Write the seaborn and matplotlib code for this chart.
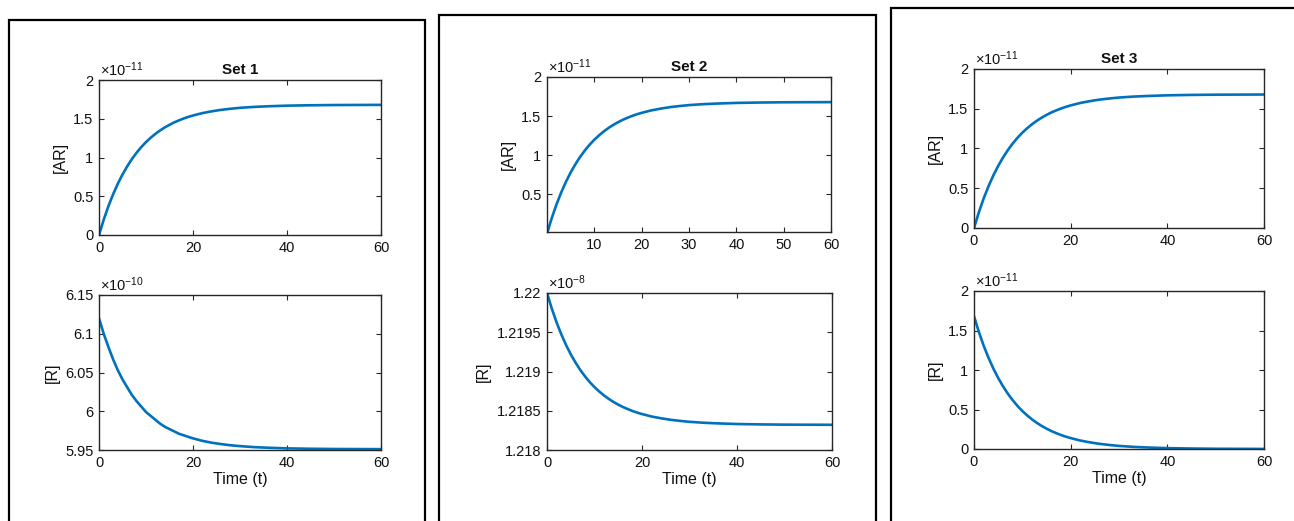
import matplotlib
matplotlib.use("Agg")
import matplotlib.pyplot as plt
import seaborn as sns
from matplotlib.patches import Rectangle
from matplotlib.ticker import FuncFormatter

# Time points (t)
time_t = [0, 1, 2, 3, 4, 5, 6, 7, 8, 9, 10, 11, 12, 13, 14, 15, 16, 17, 18, 19, 20,
          22, 24, 26, 28, 30, 33, 36, 40, 45, 50, 55, 60]

# [AR] in units of 1e-11 (same shape in all three sets)
ar_set1 = [0.000, 0.197, 0.372, 0.525, 0.661, 0.781, 0.886, 0.980, 1.062, 1.135, 1.199,
           1.255, 1.305, 1.349, 1.388, 1.422, 1.453, 1.479, 1.503, 1.524, 1.542,
           1.573, 1.596, 1.615, 1.629, 1.641, 1.653, 1.661, 1.669, 1.674, 1.677, 1.678, 1.679]
ar_set2 = [0.000, 0.197, 0.372, 0.525, 0.661, 0.781, 0.886, 0.980, 1.062, 1.135, 1.199,
           1.255, 1.305, 1.349, 1.388, 1.422, 1.453, 1.479, 1.503, 1.524, 1.542,
           1.573, 1.596, 1.615, 1.629, 1.641, 1.653, 1.661, 1.669, 1.674, 1.677, 1.678, 1.679]
ar_set3 = [0.000, 0.197, 0.372, 0.525, 0.661, 0.781, 0.886, 0.980, 1.062, 1.135, 1.199,
           1.255, 1.305, 1.349, 1.388, 1.422, 1.453, 1.479, 1.503, 1.524, 1.542,
           1.573, 1.596, 1.615, 1.629, 1.641, 1.653, 1.661, 1.669, 1.674, 1.677, 1.678, 1.679]

# [R] set 1 in units of 1e-10
r_set1 = [6.120, 6.100, 6.083, 6.067, 6.053, 6.041, 6.031, 6.021, 6.013, 6.006, 5.999,
          5.994, 5.989, 5.984, 5.980, 5.977, 5.974, 5.971, 5.969, 5.967, 5.965,
          5.9618, 5.9594, 5.9576, 5.9561, 5.9550, 5.9537, 5.9529, 5.9521, 5.9516, 5.9513,
          5.9512, 5.9511]
# [R] set 2 in units of 1e-8
r_set2 = [1.220000, 1.219803, 1.219628, 1.219475, 1.219339, 1.219219, 1.219114, 1.219020,
          1.218938, 1.218865, 1.218801, 1.218745, 1.218695, 1.218651, 1.218612, 1.218578,
          1.218547, 1.218521, 1.218497, 1.218476, 1.218458, 1.218427, 1.218404, 1.218385,
          1.218371, 1.218359, 1.218347, 1.218339, 1.218331, 1.218326, 1.218323, 1.218322,
          1.218321]
# [R] set 3 in units of 1e-11
r_set3 = [1.680, 1.483, 1.308, 1.155, 1.019, 0.899, 0.794, 0.700, 0.618, 0.545, 0.481,
          0.425, 0.375, 0.331, 0.292, 0.258, 0.227, 0.201, 0.177, 0.156, 0.138,
          0.107, 0.084, 0.065, 0.051, 0.039, 0.027, 0.019, 0.011, 0.006, 0.003, 0.002, 0.001]

set_titles = ["Set 1", "Set 2", "Set 3"]

sns.set_theme(style="white")
plt.rcParams['font.family'] = ['Liberation Sans', 'DejaVu Sans']
plt.rcParams['mathtext.fontset'] = 'custom'
plt.rcParams['mathtext.rm'] = 'Liberation Sans'
plt.rcParams['mathtext.it'] = 'Liberation Sans:italic'
plt.rcParams['text.color'] = '#111111'
plt.rcParams['axes.labelcolor'] = '#111111'

W, H = 1294, 521
fig = plt.figure(figsize=(W / 100, H / 100), dpi=100)
line_color = '#0072BD'
axis_color = '#262626'


def px_axes(left, top, right, bottom):
    return fig.add_axes([left / W, 1 - bottom / H, (right - left) / W, (bottom - top) / H])


def draw(ax, y, xlim, xticks, ylim, yticks, exp_txt, ylabel):
    sns.lineplot(x=time_t, y=y, ax=ax, color=line_color, linewidth=1.9)
    ax.set_xlim(*xlim)
    ax.set_ylim(*ylim)
    ax.set_xticks(xticks)
    ax.set_yticks(yticks)
    fmt = FuncFormatter(lambda v, p: f'{v:g}')
    ax.xaxis.set_major_formatter(fmt)
    ax.yaxis.set_major_formatter(fmt)
    ax.tick_params(direction='in', left=True, bottom=True, top=True, right=True,
                   length=3.5, width=0.8, color=axis_color, labelsize=10.5,
                   labelcolor='#111111', pad=4)
    for s in ax.spines.values():
        s.set_color(axis_color)
        s.set_linewidth(1.0)
    ax.set_ylabel(ylabel, fontsize=11.5, labelpad=4)
    ax.text(0.005, 1.005, '×10$^{' + exp_txt + '}$', transform=ax.transAxes,
            ha='left', va='bottom', fontsize=10.5, color='#111111')


# Set 1
ax = px_axes(99, 80, 381, 235)
draw(ax, ar_set1, (0, 60), [0, 20, 40, 60], (0, 2), [0, 0.5, 1, 1.5, 2], '-11', '[AR]')
ax.set_title(set_titles[0], fontsize=11, fontweight='bold', pad=4)
ax = px_axes(99, 295, 381, 450)
draw(ax, r_set1, (0, 60), [0, 20, 40, 60], (5.95, 6.15), [5.95, 6, 6.05, 6.1, 6.15], '-10', '[R]')
ax.set_xlabel('Time (t)', fontsize=11.5, labelpad=2)

# Set 2
ax = px_axes(547, 77, 831, 232)
draw(ax, ar_set2, (0, 60), [10, 20, 30, 40, 50, 60], (0.02, 2), [0.5, 1, 1.5, 2], '-11', '[AR]')
ax.set_title(set_titles[1], fontsize=11, fontweight='bold', pad=4)
ax = px_axes(547, 293, 832, 450)
draw(ax, r_set2, (0, 60), [0, 20, 40, 60], (1.218, 1.22),
     [1.218, 1.2185, 1.219, 1.2195, 1.22], '-8', '[R]')
ax.set_xlabel('Time (t)', fontsize=11.5, labelpad=2)

# Set 3
ax = px_axes(974, 69, 1264, 228)
draw(ax, ar_set3, (0, 60), [0, 20, 40, 60], (0, 2), [0, 0.5, 1, 1.5, 2], '-11', '[AR]')
ax.set_title(set_titles[2], fontsize=11, fontweight='bold', pad=4)
ax = px_axes(974, 291, 1264, 449)
draw(ax, r_set3, (0, 60), [0, 20, 40, 60], (0, 2), [0, 0.5, 1, 1.5, 2], '-11', '[R]')
ax.set_xlabel('Time (t)', fontsize=11.5, labelpad=2)

# black screenshot frames around each set
for x0, x1, top in [(9, 425, 20), (439, 876, 15), (891, 1320, 8)]:
    fig.add_artist(Rectangle((x0 / W, -0.2), (x1 - x0) / W, 0.2 + 1 - top / H,
                             transform=fig.transFigure, fill=False, ec='black', lw=1.6))

fig.savefig('out.png', dpi=100)
